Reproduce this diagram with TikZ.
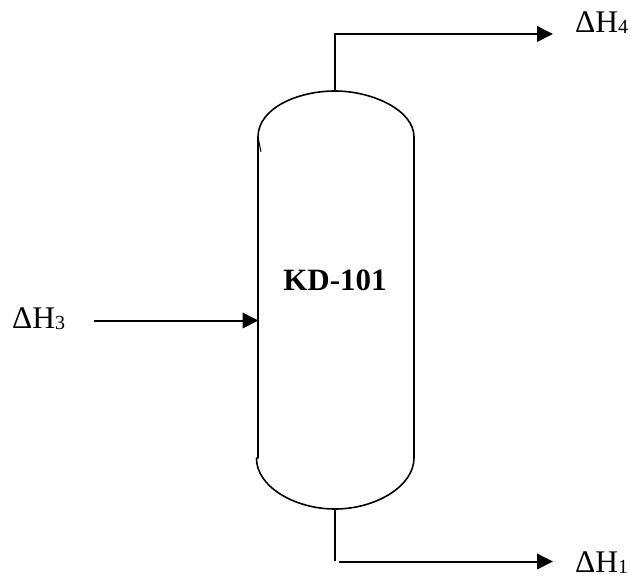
\documentclass[tikz,border=0pt]{standalone}
\usepackage{fontspec}
\setmainfont{Liberation Serif}
\usetikzlibrary{arrows.meta}
\tikzset{
  flowline/.style={line width=2pt,-{Triangle[length=16pt,width=15.5pt]}},
  stub/.style={line width=1.4pt},
  vessel/.style={line width=1.6pt,line cap=round},
  heat/.style={anchor=base west,inner sep=0pt,font=\fontsize{31.5}{33}\selectfont},
  tag/.style={anchor=base,inner sep=0pt,font=\fontsize{31}{33}\selectfont\bfseries}
}
\newcommand{\heatlabel}[1]{ΔH\raisebox{-1pt}{\fontsize{20}{22}\selectfont #1}}
\begin{document}
\begin{tikzpicture}[x=1pt,y=-1pt]
\useasboundingbox (0,0) rectangle (630,576);
% named points
\coordinate (topapex) at (335,91);
\coordinate (botapex) at (335,509);
\coordinate (topbend) at (335,34);
\coordinate (botbend) at (335,561.5);
\coordinate (botstart) at (339,561.5);
\coordinate (feedstart) at (94,320.5);
\coordinate (feedend) at (258.5,320.5);
\coordinate (topend) at (553,34);
\coordinate (botend) at (553,561.5);
% vessel
\draw[vessel] (258,458) -- (258,137)
  .. controls (258,108) and (298,91) .. (topapex)
  .. controls (372,91) and (414,110) .. (414,137)
  -- (414,458)
  .. controls (414,486) and (376,509) .. (botapex)
  .. controls (294,509) and (256,486) .. (256.5,458);
\draw[line width=1pt] (258,137) -- (261,152);
% labels
\node[tag] (kd) at (335,290) {KD-101};
\node[heat] (h4) at (575,32) {\heatlabel{4}};
\node[heat] (h1) at (575,572.5) {\heatlabel{1}};
\node[heat] (h3) at (12,328) {\heatlabel{3}};
% connectors
\draw[stub] (topapex) -- (335,35);
\draw[flowline] (334.3,34) -- (topend);
\draw[stub] (botapex) -- (335,561);
\draw[flowline] (botstart) -- (botend);
\draw[flowline] (feedstart) -- (feedend);
\end{tikzpicture}
\end{document}
